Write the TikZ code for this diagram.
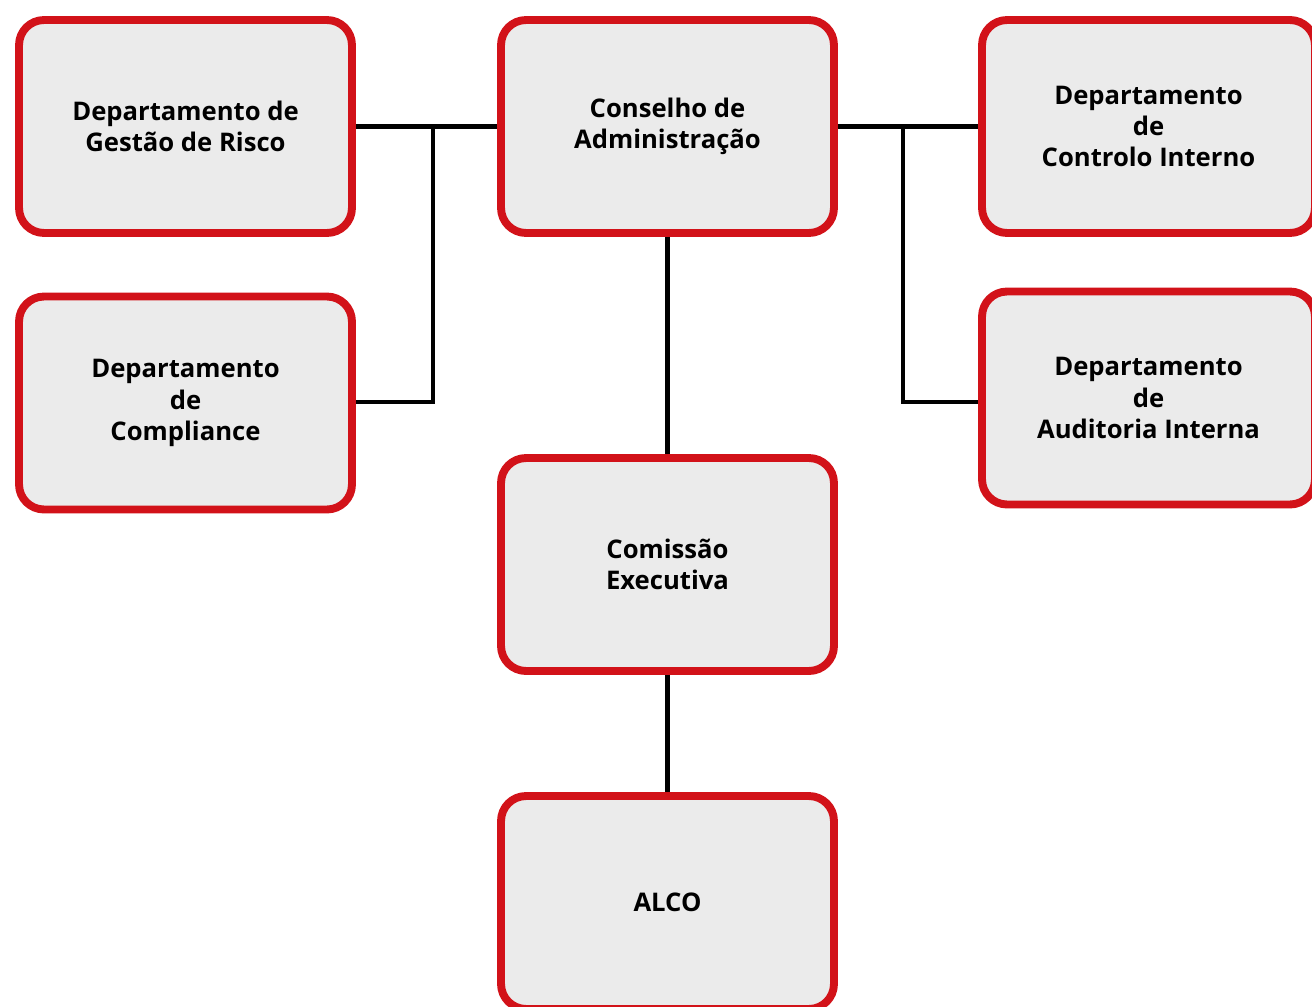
\documentclass[tikz,border=0pt]{standalone}
\usepackage{fontspec}
\setmainfont{Open Sans}
\usetikzlibrary{positioning}
\definecolor{boxred}{HTML}{D21219}
\definecolor{boxgray}{HTML}{EBEBEB}

\begin{document}
\begin{tikzpicture}[x=0.02cm,y=-0.02cm,
        org node/.style={rectangle,rounded corners=0.5cm,draw=boxred,fill=boxgray,
                line width=4.5pt,minimum width=6.66cm,minimum height=4.26cm,
                align=center,font=\bfseries\fontsize{14.6}{17.9}\selectfont},
        link/.style={draw=black,line width=2.8pt}]
\useasboundingbox (0,0) rectangle (1312,1007);

\node (Conselho) [org node] at (667.5,126.5) {Conselho de\\Administração};
\node (Risco) [org node] at (185.5,126.5) {Departamento de\\Gestão de Risco};
\node (Compliance) [org node] at (185.5,403) {Departamento\\de\\Compliance};
\node (Controlo) [org node] at (1148.5,126.5) {Departamento\\de\\Controlo Interno};
\node (Auditoria) [org node] at (1148.5,398) {Departamento\\de\\Auditoria Interna};
\node (Comissao) [org node] at (667.5,564.5) {Comissão\\Executiva};
\node (ALCO) [org node] at (667.5,902.5) {ALCO};

% junctions of the side branches
\coordinate (jl) at (433,126.5);
\coordinate (jr) at (903,126.5);
\coordinate (jl-1) at (433,402);
\coordinate (jr-1) at (903,402);

\path[link] (Risco.east) -- (Conselho.west);
\path[link] (Conselho.east) -- (Controlo.west);
\path[link] (jl) -- (jl-1) -- (jl-1 -| Compliance.east);
\path[link] (jr) -- (jr-1) -- (jr-1 -| Auditoria.west);
\path[link] (Conselho.south) -- (Comissao.north);
\path[link] (Comissao.south) -- (ALCO.north);

\end{tikzpicture}
\end{document}
